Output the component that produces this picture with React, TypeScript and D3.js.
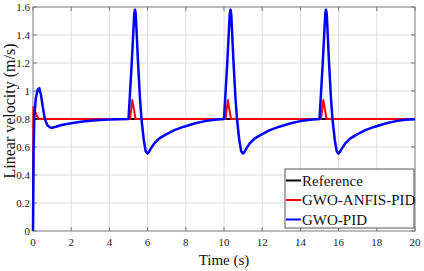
import * as d3 from "d3";

// Time (s) / velocity (m/s) pairs
const refT = [0, 20];
const refV = [0.8, 0.8];

const anfisT = [0, 0.02, 0.1, 0.18, 0.28, 5.08, 5.2, 5.37, 10.08, 10.2, 10.37, 15.08, 15.2, 15.37, 20];
const anfisV = [0, 0.885, 0.86, 0.83, 0.8, 0.8, 0.935, 0.8, 0.8, 0.935, 0.8, 0.8, 0.935, 0.8, 0.8];

const pidT = [
  0, 0.03, 0.07, 0.15, 0.25, 0.33, 0.42, 0.52, 0.62, 0.75, 0.9, 1.0, 1.2, 1.5, 2.0, 2.5, 3.0, 3.5, 4.0, 4.5,
  5.0, 5.17, 5.3, 5.34, 5.38, 5.5, 5.6, 5.68, 5.8, 5.9, 5.99, 6.05, 6.15, 6.35, 6.6, 6.9, 7.4, 7.9, 8.5, 9.0, 9.5,
  10.0, 10.17, 10.3, 10.34, 10.38, 10.5, 10.6, 10.68, 10.8, 10.9, 10.99, 11.05, 11.15, 11.35, 11.6, 11.9, 12.4, 12.9, 13.5, 14.0, 14.5,
  15.0, 15.17, 15.3, 15.34, 15.38, 15.5, 15.6, 15.68, 15.8, 15.9, 15.99, 16.05, 16.15, 16.35, 16.6, 16.9, 17.4, 17.9, 18.5, 19.0, 19.5, 20.0,
];
const pidV = [
  0, 0.55, 0.82, 0.95, 1.01, 1.02, 0.97, 0.88, 0.8, 0.755, 0.74, 0.738, 0.745, 0.757, 0.77, 0.78, 0.787, 0.792, 0.796, 0.798,
  0.8, 1.2, 1.55, 1.58, 1.55, 1.2, 0.95, 0.8, 0.65, 0.57, 0.553, 0.56, 0.585, 0.626, 0.66, 0.685, 0.72, 0.745, 0.77, 0.785, 0.795,
  0.8, 1.2, 1.55, 1.58, 1.55, 1.2, 0.95, 0.8, 0.65, 0.57, 0.553, 0.56, 0.585, 0.626, 0.66, 0.685, 0.72, 0.745, 0.77, 0.785, 0.795,
  0.8, 1.2, 1.55, 1.58, 1.55, 1.2, 0.95, 0.8, 0.65, 0.57, 0.553, 0.56, 0.585, 0.626, 0.66, 0.685, 0.72, 0.745, 0.77, 0.785, 0.795, 0.798,
];

const xTicks = [0, 2, 4, 6, 8, 10, 12, 14, 16, 18, 20];
const yTicks = [0, 0.2, 0.4, 0.6, 0.8, 1, 1.2, 1.4, 1.6];

const seriesNames = ["Reference", "GWO-ANFIS-PID", "GWO-PID"];
const seriesColors = ["#000000", "#ff0000", "#0000ff"];

const W = 424;
const H = 271;
const left = 33, right = 415, top = 7, bottom = 231;

export default function App() {
  const x = d3.scaleLinear().domain([0, 20]).range([left, right]);
  const y = d3.scaleLinear().domain([0, 1.6]).range([bottom, top]);
  const line = d3.line<[number, number]>().x(d => x(d[0])).y(d => y(d[1]));

  const series = [
    { t: refT, v: refV, w: 2 },
    { t: anfisT, v: anfisV, w: 2 },
    { t: pidT, v: pidV, w: 2.5 },
  ];

  const font = "'Liberation Serif', 'Times New Roman', serif";

  return (
    <svg width={W} height={H} style={{ position: "absolute", left: 0, top: 0, background: "#fff" }} fontFamily={font}>
      {/* grid */}
      {xTicks.map(t => (
        <line key={"gx" + t} x1={x(t)} x2={x(t)} y1={top} y2={bottom} stroke="#dcdcdc" strokeWidth={1} />
      ))}
      {yTicks.map(t => (
        <line key={"gy" + t} x1={left} x2={right} y1={y(t)} y2={y(t)} stroke="#dcdcdc" strokeWidth={1} />
      ))}
      {/* frame */}
      <rect x={left} y={top} width={right - left} height={bottom - top} fill="none" stroke="#9a9a9a" strokeWidth={1.2} />
      {xTicks.map(t => (
        <g key={"tx" + t}>
          <line x1={x(t)} x2={x(t)} y1={bottom} y2={bottom - 4} stroke="#777" />
          <line x1={x(t)} x2={x(t)} y1={top} y2={top + 4} stroke="#777" />
          <text x={x(t)} y={bottom + 15} fontSize={11} textAnchor="middle" fill="#222">{t}</text>
        </g>
      ))}
      {yTicks.map(t => (
        <g key={"ty" + t}>
          <line x1={left} x2={left + 4} y1={y(t)} y2={y(t)} stroke="#777" />
          <line x1={right} x2={right - 4} y1={y(t)} y2={y(t)} stroke="#777" />
          <text x={left - 3} y={y(t) + 4} fontSize={11} textAnchor="end" fill="#222">{d3.format("~g")(t)}</text>
        </g>
      ))}
      {/* data */}
      {series.map((s, i) => (
        <path
          key={seriesNames[i]}
          d={line(s.t.map((t, k) => [t, s.v[k]] as [number, number])) || ""}
          fill="none"
          stroke={seriesColors[i]}
          strokeWidth={s.w}
          strokeLinejoin="round"
        />
      ))}
      {/* axis titles */}
      <text x={(left + right) / 2} y={265} fontSize={15} textAnchor="middle" fill="#111">Time (s)</text>
      <text transform={`translate(15,111) rotate(-90)`} fontSize={16} textAnchor="middle" fill="#111">Linear velocity (m/s)</text>
      {/* legend */}
      <rect x={285} y={169} width={129} height={59} fill="#fff" stroke="#555" strokeWidth={1} />
      {seriesNames.map((n, i) => {
        const ly = 180.5 + i * 19.5;
        return (
          <g key={"lg" + n}>
            <line x1={286} x2={301} y1={ly} y2={ly} stroke={seriesColors[i]} strokeWidth={2} />
            <text x={302} y={ly + 5} fontSize={15} fill="#111">{n}</text>
          </g>
        );
      })}
    </svg>
  );
}
